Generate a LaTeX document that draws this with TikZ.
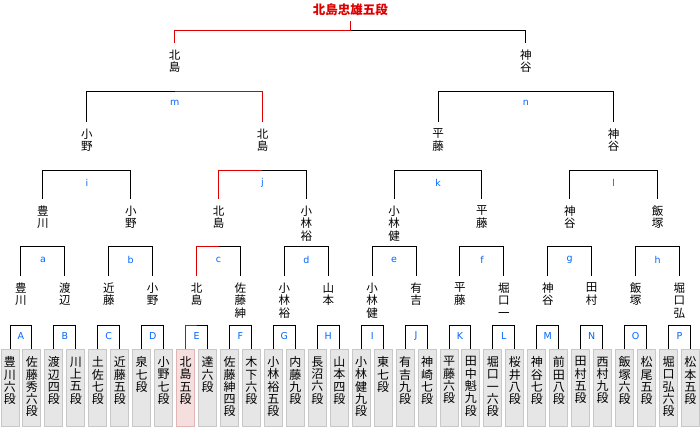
\documentclass[tikz,border=0pt]{standalone}
\usepackage{fontspec}
\newfontfamily\jp{Noto Sans CJK JP}
\newfontfamily\lat{DejaVu Sans}
\usetikzlibrary{positioning,calc}
\definecolor{boxfill}{RGB}{230,230,230}
\definecolor{boxline}{RGB}{200,200,200}
\definecolor{hlfill}{RGB}{244,222,222}
\definecolor{hlline}{RGB}{226,180,180}
\definecolor{winred}{RGB}{221,0,0}
\definecolor{lblblue}{RGB}{0,102,255}

\begin{document}
\begin{tikzpicture}[x=1pt, y=-1pt,
    pbox/.style={draw=cd, fill=cf, line width=1pt, minimum width=18pt, minimum height=77pt, inner sep=0pt, anchor=north},
    ptext/.style={anchor=north, inner sep=0pt, align=center, font=\jp\fontsize{12}{12.3}\selectfont},
    plname/.style={anchor=north, inner sep=0pt, outer ysep=7pt, align=center, font=\jp\fontsize{11.5}{12.3}\selectfont},
    champ/.style={anchor=south, inner sep=0pt, outer ysep=5pt, text=winred, font=\jp\bfseries\fontsize{12.5}{13}\selectfont},
    br/.style={line width=1pt},
    win/.style={br, draw=winred},
    lbl/.style={font=\lat\fontsize{9.5}{10}\selectfont, text=lblblue, inner sep=0pt}
]
\useasboundingbox (0,0) rectangle (700,427);

% players
\foreach \i/\nm in {0/豊\\川\\六\\段, 1/佐\\藤\\秀\\六\\段, 2/渡\\辺\\四\\段, 3/川\\上\\五\\段,
    4/土\\佐\\七\\段, 5/近\\藤\\五\\段, 6/泉\\七\\段, 7/小\\野\\七\\段,
    8/北\\島\\五\\段, 9/達\\六\\段, 10/佐\\藤\\紳\\四\\段, 11/木\\下\\六\\段,
    12/小\\林\\裕\\五\\段, 13/内\\藤\\九\\段, 14/長\\沼\\六\\段, 15/山\\本\\四\\段,
    16/小\\林\\健\\九\\段, 17/東\\七\\段, 18/有\\吉\\九\\段, 19/神\\崎\\七\\段,
    20/平\\藤\\六\\段, 21/田\\中\\魁\\九\\段, 22/堀\\口\\一\\六\\段, 23/桜\\井\\八\\段,
    24/神\\谷\\七\\段, 25/前\\田\\八\\段, 26/田\\村\\五\\段, 27/西\\村\\九\\段,
    28/飯\\塚\\六\\段, 29/松\\尾\\五\\段, 30/堀\\口\\弘\\六\\段, 31/松\\本\\五\\段} {
  \ifnum\i=8 \colorlet{cf}{hlfill}\colorlet{cd}{hlline}\else\colorlet{cf}{boxfill}\colorlet{cd}{boxline}\fi
  \node[pbox] (p\i) at ({10+21.95*\i},349) {};
  \node[ptext, below=7.5pt of p\i.north] (n\i) {\nm};
}

% round 1 (A--P)
\foreach \k/\lt/\nm in {0/A/豊\\川, 1/B/渡\\辺, 2/C/近\\藤, 3/D/小\\野,
    4/E/北\\島, 5/F/佐\\藤\\紳, 6/G/小\\林\\裕, 7/H/山\\本,
    8/I/小\\林\\健, 9/J/有\\吉, 10/K/平\\藤, 11/L/堀\\口\\一,
    12/M/神\\谷, 13/N/田\\村, 14/O/飯\\塚, 15/P/堀\\口\\弘} {
  \pgfmathtruncatemacro\ia{2*\k}
  \pgfmathtruncatemacro\ib{2*\k+1}
  \node[plname] (w\k) at ({20.975+43.9*\k},276) {\nm};
  \draw[br] (p\ia.north) -- ++(0,-24) -| (p\ib.north) node[lbl, pos=.25, yshift=-11pt] {\lt};
}

% round 2 (a--h)
\foreach \k/\lt/\nm in {0/a/豊\\川, 1/b/小\\野, 2/c/北\\島, 3/d/小\\林\\裕,
    4/e/小\\林\\健, 5/f/平\\藤, 6/g/神\\谷, 7/h/飯\\塚} {
  \pgfmathtruncatemacro\ia{2*\k}
  \pgfmathtruncatemacro\ib{2*\k+1}
  \node[plname] (v\k) at ({42.95+87.8*\k},199) {\nm};
  \draw[br] (w\ia.north) -- ++(0,-29) -| (w\ib.north) node[lbl, pos=.25, yshift=-13pt] {\lt};
}

% quarter finals (i--l)
\foreach \k/\lt/\nm in {0/i/小\\野, 1/j/北\\島, 2/k/平\\藤, 3/l/神\\谷} {
  \pgfmathtruncatemacro\ia{2*\k}
  \pgfmathtruncatemacro\ib{2*\k+1}
  \node[plname] (u\k) at ({86.9+175.6*\k},122) {\nm};
  \draw[br] (v\ia.north) -- ++(0,-28) -| (v\ib.north) node[lbl, pos=.25, yshift=-12pt] {\lt};
}

% semi finals (m, n)
\foreach \k/\lt/\nm in {0/m/北\\島, 1/n/神\\谷} {
  \pgfmathtruncatemacro\ia{2*\k}
  \pgfmathtruncatemacro\ib{2*\k+1}
  \node[plname] (t\k) at ({174.7+351.2*\k},43) {\nm};
  \draw[br] (u\ia.north) -- ++(0,-30) -| (u\ib.north) node[lbl, pos=.25, yshift=-11pt] {\lt};
}

% final
\node[champ] (champ) at (350.3,21) {北島忠雄五段};
\draw[br] (t1.north) -- ++(0,-12) -- ($(t0.north)!.5!(t1.north)+(0,-12)$);

% winner path
\draw[win] (p8.north) -- ++(0,-24) -- ($(p8.north)!.5!(p9.north)+(0,-24)$);
\draw[win] (w4.north) -- ++(0,-29) -- ($(w4.north)!.5!(w5.north)+(0,-29)$);
\draw[win] (v2.north) -- ++(0,-28) -- ($(v2.north)!.5!(v3.north)+(0,-28)$);
\draw[win] (u1.north) -- ++(0,-30) -- ($(u0.north)!.5!(u1.north)+(0,-30)$);
\draw[win] (t0.north) -- ++(0,-12) -| (champ.south);
\end{tikzpicture}
\end{document}
